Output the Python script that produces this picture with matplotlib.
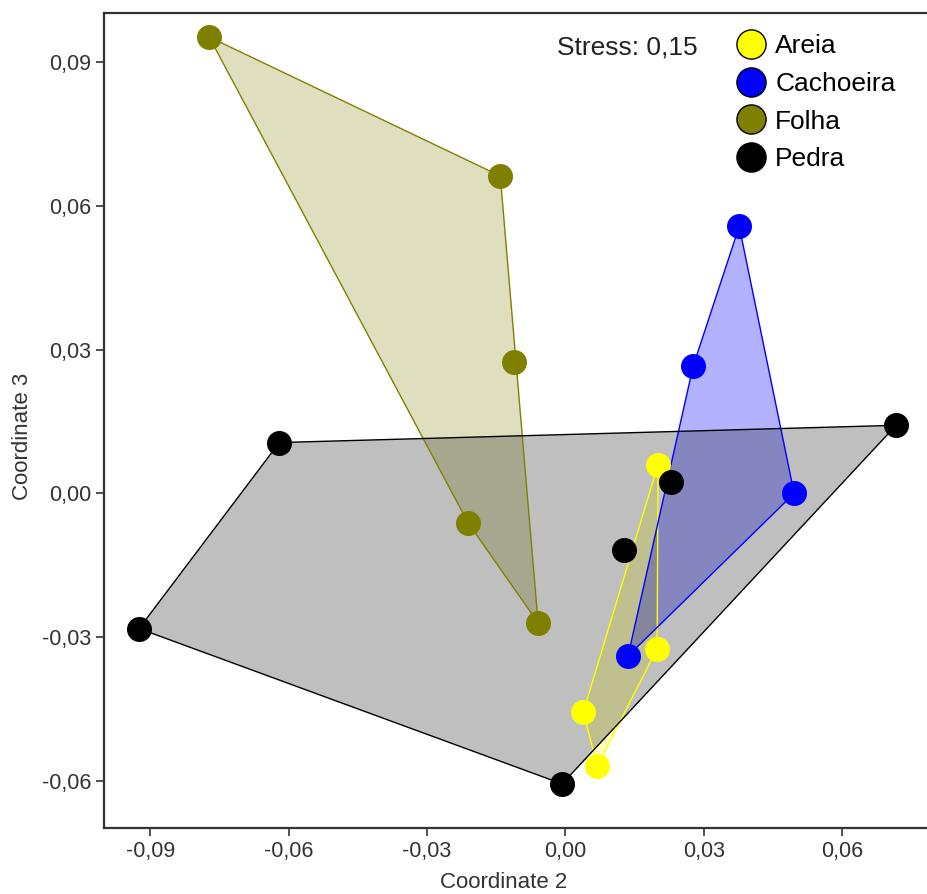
import numpy as np
import matplotlib.pyplot as plt
from matplotlib.lines import Line2D

plt.rcParams['font.family'] = ['Liberation Sans', 'DejaVu Sans']

# NMDS scores (Coordinate 2 x Coordinate 3)
grupos = ['Areia', 'Cachoeira', 'Folha', 'Pedra']
cores = ['#FFFF00', '#0000FF', '#808000', '#000000']

areia_x = [0.0201, 0.0199, 0.0039, 0.0069]
areia_y = [0.0060, -0.0324, -0.0456, -0.0569]

cachoeira_x = [0.0377, 0.0277, 0.0496, 0.0136]
cachoeira_y = [0.0557, 0.0265, 0.0000, -0.0339]

folha_x = [-0.0772, -0.0141, -0.0111, -0.0211, -0.0059]
folha_y = [0.0952, 0.0662, 0.0273, -0.0061, -0.0270]

pedra_x = [-0.0620, 0.0717, 0.0229, 0.0128, -0.0924, -0.0007]
pedra_y = [0.0106, 0.0142, 0.0023, -0.0119, -0.0282, -0.0606]

dados = [(areia_x, areia_y), (cachoeira_x, cachoeira_y),
         (folha_x, folha_y), (pedra_x, pedra_y)]

ticks = [-0.09, -0.06, -0.03, 0.00, 0.03, 0.06]
yticks = [-0.06, -0.03, 0.00, 0.03, 0.06, 0.09]


def casco(xs, ys):
    # convex hull (monotone chain)
    pts = sorted(zip(xs, ys))

    def cross(o, a, b):
        return (a[0]-o[0])*(b[1]-o[1]) - (a[1]-o[1])*(b[0]-o[0])
    lower, upper = [], []
    for p in pts:
        while len(lower) >= 2 and cross(lower[-2], lower[-1], p) <= 0:
            lower.pop()
        lower.append(p)
    for p in reversed(pts):
        while len(upper) >= 2 and cross(upper[-2], upper[-1], p) <= 0:
            upper.pop()
        upper.append(p)
    h = lower[:-1] + upper[:-1]
    return [p[0] for p in h], [p[1] for p in h]


fig = plt.figure(figsize=(9.27, 8.94), dpi=100)
ax = fig.add_axes([104/927, 1-828/894, 1-104/927, (828-13)/894])

alphas = [0.25, 0.3, 0.25, 0.25]
for (xs, ys), c, a in zip(dados, cores, alphas):
    hx, hy = casco(xs, ys)
    ax.fill(hx, hy, facecolor=c, alpha=a, edgecolor='none', zorder=1)
    ax.fill(hx, hy, facecolor='none', edgecolor=c, lw=1.0, zorder=2)

for (xs, ys), c in zip(dados, cores):
    ax.plot(xs, ys, 'o', color=c, markersize=18, markeredgewidth=0, zorder=3)

ax.set_xlim(-0.1, 0.0784)
ax.set_ylim(-0.0698, 0.1002)
ax.set_xticks(ticks)
ax.set_yticks(yticks)
ax.set_xticklabels([f'{t:.2f}'.replace('.', ',') for t in ticks], fontsize=15.5, color='#333333')
ax.set_yticklabels([f'{t:.2f}'.replace('.', ',') for t in yticks], fontsize=15.5, color='#333333')
ax.tick_params(direction='out', length=6, width=1.2, color='#333333', pad=3)
ax.spines['right'].set_visible(False)
for s in ['left', 'top', 'bottom']:
    ax.spines[s].set_linewidth(1.6)
    ax.spines[s].set_color('#333333')

ax.set_xlabel('Coordinate 2', fontsize=16, color='#333333')
ax.set_ylabel('Coordinate 3', fontsize=16, color='#333333')
ax.xaxis.set_label_coords(0.485, -0.054)
ax.yaxis.set_label_coords(-0.086, 0.48)

ax.text(0.55, 0.958, 'Stress: 0,15', transform=ax.transAxes, fontsize=19,
        va='center', ha='left', color='#222222')

handles = [Line2D([], [], ls='none', marker='o', markersize=21, color=c,
                  markeredgecolor='black', markeredgewidth=1) for c in cores]
ax.legend(handles, grupos, loc='upper left', bbox_to_anchor=(0.745, 1.0),
          frameon=False, fontsize=19, handlelength=1.0, handletextpad=0.4,
          labelspacing=0.52, borderpad=0.3)

fig.savefig('out.png', dpi=100)
